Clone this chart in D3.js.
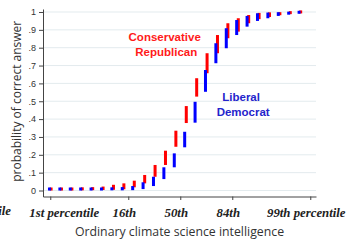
<!DOCTYPE html>
<html>
<head>
<meta charset="utf-8">
<script src="https://cdn.jsdelivr.net/npm/d3@7"></script>
<style>
  body { margin: 0; background: #fff; }
  svg { display: block; }
</style>
</head>
<body>
<div id="chart"></div>
<script>
// x positions in SD units of climate science intelligence
const zVals = [-2.5, -2.3, -2.1, -1.9, -1.7, -1.5, -1.3, -1.1, -0.9, -0.7, -0.5, -0.3, -0.1,
               0.1, 0.3, 0.5, 0.7, 0.9, 1.1, 1.3, 1.5, 1.7, 1.9, 2.1, 2.3];

// conservative republican: 95% CI of predicted probability
const repLo = [0.000, 0.000, 0.000, 0.001, 0.002, 0.003, 0.004, 0.007, 0.018, 0.040, 0.077, 0.143, 0.245,
               0.378, 0.526, 0.657, 0.769, 0.853, 0.890, 0.937, 0.960, 0.972, 0.982, 0.988, 0.992];
const repHi = [0.006, 0.007, 0.008, 0.012, 0.016, 0.022, 0.032, 0.040, 0.055, 0.087, 0.143, 0.223, 0.335,
               0.473, 0.629, 0.769, 0.871, 0.937, 0.965, 0.983, 0.995, 0.998, 0.999, 1.000, 1.000];

// liberal democrat
const demLo = [0.000, 0.000, 0.000, 0.000, 0.000, 0.000, 0.001, 0.001, 0.002, 0.008, 0.025, 0.064, 0.130,
               0.242, 0.380, 0.553, 0.713, 0.797, 0.871, 0.918, 0.950, 0.965, 0.978, 0.985, 0.990];
const demHi = [0.005, 0.005, 0.006, 0.007, 0.008, 0.010, 0.014, 0.019, 0.025, 0.046, 0.077, 0.130, 0.208,
               0.329, 0.497, 0.675, 0.825, 0.909, 0.955, 0.978, 0.993, 0.997, 0.999, 1.000, 1.000];

const xTickVals = [-2.5, -1, 0, 1, 2.5];
const xTickLabels = ["1st percentile", "16th", "50th", "84th", "99th percentile"];
const yTickVals = [0, 0.1, 0.2, 0.3, 0.4, 0.5, 0.6, 0.7, 0.8, 0.9, 1];

const width = 348, height = 242;
const red = "#ff0000", blue = "#0000ff";

const svg = d3.select("#chart").append("svg")
    .attr("width", width)
    .attr("height", height);

const x = d3.scaleLinear().domain([-2.64, 2.61]).range([43, 316]);
const y = d3.scaleLinear().domain([-0.0336, 1.0168]).range([196.5, 9]);

// horizontal grid
svg.append("g")
  .selectAll("line")
  .data(yTickVals)
  .join("line")
    .attr("x1", x.range()[0])
    .attr("x2", x.range()[1])
    .attr("y1", d => y(d))
    .attr("y2", d => y(d))
    .attr("stroke", "#e3ebee")
    .attr("stroke-width", 1);

// y axis
const yAxis = svg.append("g")
    .attr("transform", `translate(${x.range()[0]},0)`)
    .call(d3.axisLeft(y)
      .tickValues(yTickVals)
      .tickSize(4)
      .tickSizeOuter(0)
      .tickPadding(3)
      .tickFormat(d => d === 0 ? "0" : d === 1 ? "1" : d3.format(".1f")(d).replace("0.", ".")));
yAxis.select(".domain").attr("stroke", "#444");
yAxis.selectAll(".tick line").attr("stroke", "#444");
yAxis.selectAll("text")
    .attr("font-family", "'Liberation Sans', Arial, sans-serif")
    .attr("font-size", 9)
    .attr("fill", "#333");

// x axis
const xAxis = svg.append("g")
    .attr("transform", `translate(0,${y.range()[0]})`)
    .call(d3.axisBottom(x)
      .tickValues(xTickVals)
      .tickSize(3.5)
      .tickSizeOuter(0)
      .tickPadding(8)
      .tickFormat((d, i) => xTickLabels[i]));
xAxis.select(".domain").attr("stroke", "#444");
xAxis.selectAll(".tick line").attr("stroke", "#444");
// label nudges to match the original layout
const labelNudge = { "1st percentile": 13.5 };
xAxis.selectAll("text")
    .attr("font-family", "'Liberation Serif', 'Times New Roman', serif")
    .attr("font-weight", "bold")
    .attr("font-style", "italic")
    .attr("font-size", 12.8)
    .attr("fill", "#222")
    .attr("dx", d => labelNudge[xTickLabels[xTickVals.indexOf(d)]] ?? -4.5);

// cut-off label from the neighbouring panel
svg.append("text")
    .attr("x", 11)
    .attr("y", y.range()[0] + 18)
    .attr("text-anchor", "end")
    .attr("font-family", "'Liberation Serif', 'Times New Roman', serif")
    .attr("font-weight", "bold")
    .attr("font-style", "italic")
    .attr("font-size", 12.8)
    .attr("fill", "#222")
    .text("99th percentile");

// axis titles
svg.append("text")
    .attr("x", (x.range()[0] + x.range()[1]) / 2)
    .attr("y", 236)
    .attr("text-anchor", "middle")
    .attr("font-family", "'Open Sans', sans-serif")
    .attr("font-size", 12.3)
    .attr("fill", "#333")
    .text("Ordinary climate science intelligence");

svg.append("text")
    .attr("transform", `translate(21,${y(0.5)}) rotate(-90)`)
    .attr("text-anchor", "middle")
    .attr("font-family", "'Open Sans', sans-serif")
    .attr("font-size", 12)
    .attr("fill", "#333")
    .text("probability of correct answer");

// confidence interval spikes
function drawSpikes(lo, hi, color, off) {
  svg.append("g")
    .selectAll("rect")
    .data(zVals)
    .join("rect")
      .attr("x", d => x(d) + off - 1.5)
      .attr("width", 3)
      .attr("y", (d, i) => Math.min(y(hi[i]), y(lo[i]) - 3))
      .attr("height", (d, i) => Math.max(3, y(lo[i]) - y(hi[i])))
      .attr("fill", color);
}
drawSpikes(repLo, repHi, red, 0.8);
drawSpikes(demLo, demHi, blue, -0.8);

// series labels
const labelFont = "'Liberation Sans', Arial, sans-serif";
svg.append("text")
    .attr("x", x(-0.3)).attr("y", y(0.84))
    .attr("text-anchor", "middle")
    .attr("font-family", labelFont).attr("font-weight", "bold").attr("font-size", 11.5)
    .attr("fill", "#ff1a1a")
    .text("Conservative");
svg.append("text")
    .attr("x", x(-0.27)).attr("y", y(0.755))
    .attr("text-anchor", "middle")
    .attr("font-family", labelFont).attr("font-weight", "bold").attr("font-size", 11.5)
    .attr("fill", "#ff1a1a")
    .text("Republican");
svg.append("text")
    .attr("x", x(1.17)).attr("y", y(0.5))
    .attr("text-anchor", "middle")
    .attr("font-family", labelFont).attr("font-weight", "bold").attr("font-size", 11.5)
    .attr("fill", "#2424cc")
    .text("Liberal");
svg.append("text")
    .attr("x", x(1.21)).attr("y", y(0.417))
    .attr("text-anchor", "middle")
    .attr("font-family", labelFont).attr("font-weight", "bold").attr("font-size", 11.5)
    .attr("fill", "#2424cc")
    .text("Democrat");
</script>
</body>
</html>
